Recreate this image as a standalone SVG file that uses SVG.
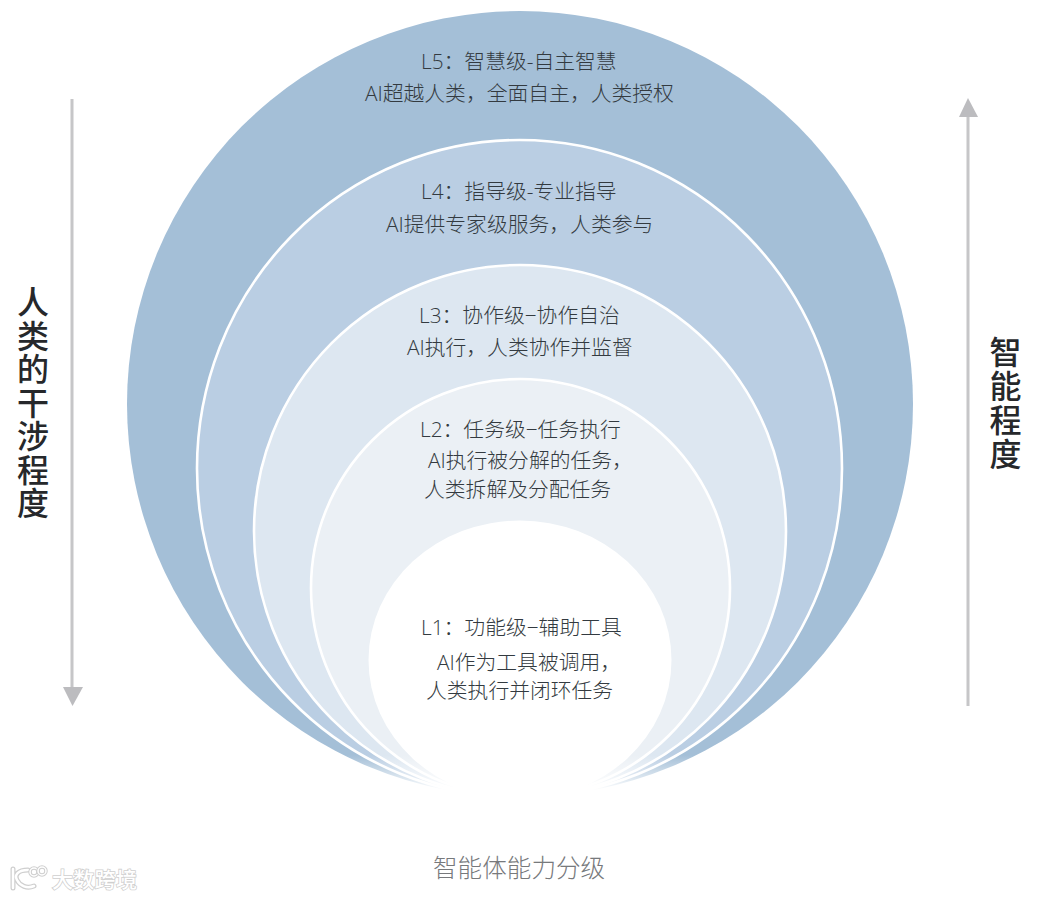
<svg xmlns="http://www.w3.org/2000/svg" width="1054" height="898" viewBox="0 0 1054 898">
<style>
.ring{stroke:#fff;stroke-width:2.6}
.t{font-family:"Open Sans","Noto Sans CJK SC",sans-serif;font-size:20.8px;font-weight:300;fill:#333a40}
.v{font-family:"Noto Sans CJK SC",sans-serif;font-size:32px;font-weight:500;fill:#26282b;text-anchor:middle}
.cap{font-family:"Noto Sans CJK SC",sans-serif;font-size:24.6px;font-weight:300;fill:#77797c}
.wm{font-family:"Noto Sans CJK SC",sans-serif;font-size:21px;font-weight:500;fill:#fff;stroke:#cfcfcf;stroke-width:1.6;paint-order:stroke}
.wl{fill:none;stroke-linecap:round}
.ar{stroke:#c6c6c8;stroke-width:3;fill:none}
.ah{fill:#bcbcbf}
</style>
<defs>
<linearGradient id="fade" x1="0" y1="0" x2="0" y2="1">
<stop offset="0" stop-color="#fff" stop-opacity="0"/>
<stop offset="0.7" stop-color="#fff" stop-opacity="0.65"/>
<stop offset="1" stop-color="#fff" stop-opacity="1"/>
</linearGradient>
</defs>
<rect width="1054" height="898" fill="#fff"/>
<g id="L5"><ellipse cx="520" cy="404" rx="393" ry="393" fill="#a4bfd7"/></g>
<g id="L4"><ellipse class="ring" cx="519.5" cy="468.5" rx="322.5" ry="328.5" fill="#bacee3"/></g>
<g id="L3"><ellipse class="ring" cx="520" cy="531" rx="266" ry="266" fill="#dde7f1"/></g>
<g id="L2"><ellipse class="ring" cx="520.5" cy="588" rx="209.5" ry="209" fill="#ebf0f5"/></g>
<g id="L1"><ellipse cx="520" cy="660" rx="151.5" ry="139.5" fill="#fff"/></g>
<rect x="340" y="755" width="360" height="35" fill="url(#fade)"/>
<rect x="340" y="790" width="360" height="12" fill="#fff"/>
<g id="labels">
<text class="t" x="421" y="69">L5：智慧级-自主智慧</text>
<text class="t" x="365" y="101">AI超越人类，全面自主，人类授权</text>
<text class="t" x="421" y="199">L4：指导级-专业指导</text>
<text class="t" x="386" y="232">AI提供专家级服务，人类参与</text>
<text class="t" x="419" y="323">L3：协作级−协作自治</text>
<text class="t" x="407" y="355">AI执行，人类协作并监督</text>
<text class="t" x="420" y="437">L2：任务级−任务执行</text>
<text class="t" x="428" y="468">AI执行被分解的任务，</text>
<text class="t" x="424" y="497">人类拆解及分配任务</text>
<text class="t" x="421" y="635">L1：功能级−辅助工具</text>
<text class="t" x="437" y="670">AI作为工具被调用，</text>
<text class="t" x="426" y="698">人类执行并闭环任务</text>
</g>
<g id="connectors">
<line class="ar" x1="72" y1="99" x2="72" y2="690"/>
<polygon class="ah" points="63,687 83,687 72.5,706"/>
<line class="ar" x1="968" y1="115" x2="968" y2="706"/>
<polygon class="ah" points="959,117 978,117 968,98"/>
</g>
<g id="axis-left">
<text class="v"><tspan x="33" y="314">人</tspan><tspan x="33" y="347.500">类</tspan><tspan x="33" y="381">的</tspan><tspan x="33" y="414.500">干</tspan><tspan x="33" y="448">涉</tspan><tspan x="33" y="481.500">程</tspan><tspan x="33" y="515">度</tspan></text>
</g>
<g id="axis-right">
<text class="v"><tspan x="1005.500" y="364">智</tspan><tspan x="1005.500" y="398">能</tspan><tspan x="1005.500" y="432">程</tspan><tspan x="1005.500" y="466">度</tspan></text>
</g>
<g id="caption"><text class="cap" x="433" y="877">智能体能力分级</text></g>
<g id="watermark">
<g class="wl">
<path d="M13 869V888M28 870C18 870 14 875 17 880C20 886 27 889 34 886" stroke="#cfcfcf" stroke-width="5"/>
<path d="M13 869V888M28 870C18 870 14 875 17 880C20 886 27 889 34 886" stroke="#fff" stroke-width="2.500"/>
<circle cx="34" cy="872" r="4" stroke="#cfcfcf" stroke-width="3.500"/><circle cx="34" cy="872" r="4" stroke="#fff" stroke-width="1.500"/>
<circle cx="42" cy="871" r="4" stroke="#cfcfcf" stroke-width="3.500"/><circle cx="42" cy="871" r="4" stroke="#fff" stroke-width="1.500"/>
</g>
<text class="wm" x="52" y="887" letter-spacing="0.300">大数跨境</text>
</g>
</svg>
